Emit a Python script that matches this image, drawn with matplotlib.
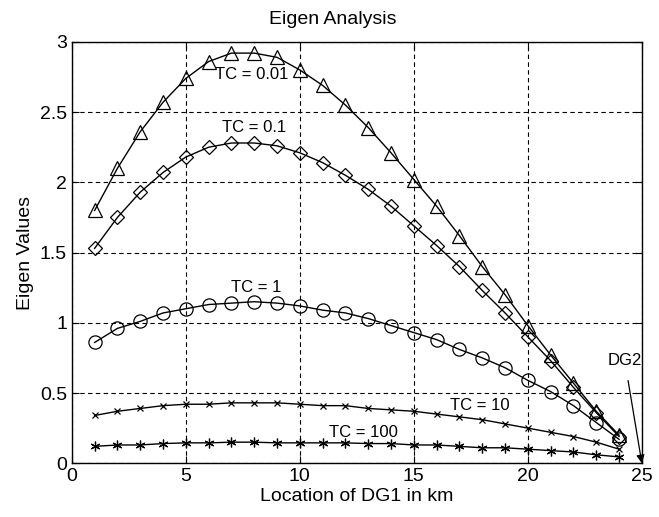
import numpy as np
import matplotlib
matplotlib.use('Agg')
from matplotlib import pyplot as plt

plt.rcParams['font.family'] = ['Liberation Sans', 'DejaVu Sans']

# location of DG1 (km)
loc = np.arange(1, 25)

# eigen values for each time constant
tc_001 = [1.80, 2.10, 2.36, 2.57, 2.74, 2.86, 2.92, 2.92, 2.89, 2.80, 2.69, 2.55,
          2.39, 2.21, 2.02, 1.83, 1.62, 1.40, 1.20, 0.98, 0.77, 0.57, 0.37, 0.20]
tc_01 = [1.53, 1.75, 1.93, 2.07, 2.18, 2.25, 2.28, 2.28, 2.26, 2.21, 2.14, 2.05,
         1.95, 1.83, 1.69, 1.55, 1.40, 1.23, 1.07, 0.90, 0.73, 0.54, 0.36, 0.19]
tc_1 = [0.86, 0.96, 1.01, 1.07, 1.10, 1.13, 1.14, 1.15, 1.14, 1.12, 1.09, 1.07,
        1.03, 0.98, 0.93, 0.88, 0.81, 0.75, 0.68, 0.59, 0.51, 0.41, 0.29, 0.17]
tc_10 = [0.34, 0.37, 0.39, 0.41, 0.42, 0.42, 0.43, 0.43, 0.43, 0.42, 0.41, 0.41,
         0.39, 0.38, 0.37, 0.35, 0.33, 0.31, 0.28, 0.25, 0.22, 0.19, 0.15, 0.10]
tc_100 = [0.12, 0.13, 0.13, 0.14, 0.145, 0.145, 0.15, 0.15, 0.145, 0.145, 0.145, 0.145,
          0.14, 0.14, 0.13, 0.13, 0.12, 0.11, 0.11, 0.10, 0.09, 0.08, 0.06, 0.045]

fig = plt.figure(figsize=(6.59, 5.17), dpi=100)
ax = fig.add_axes([0.109, 0.104, 0.865, 0.815])

ax.plot(loc, tc_001, 'k-', marker='^', ms=10, mfc='none', mew=0.9, lw=1)
ax.plot(loc, tc_01, 'k-', marker='D', ms=7, mfc='none', mew=0.9, lw=1)
ax.plot(loc, tc_1, 'k-', marker='o', ms=9.5, mfc='none', mew=0.9, lw=1)
ax.plot(loc, tc_10, 'k-', marker='x', ms=4.5, mew=0.9, lw=1)
ax.plot(loc, tc_100, 'k-', marker=(6, 2, 0), ms=7, mew=0.9, lw=1)

ax.set_xlim(0, 25)
ax.set_ylim(0, 3)
ax.set_xticks([0, 5, 10, 15, 20, 25])
ax.set_yticks([0, 0.5, 1, 1.5, 2, 2.5, 3])
ax.set_yticklabels(['0', '0.5', '1', '1.5', '2', '2.5', '3'])
ax.grid(True, color='k', linestyle=(0, (4, 3)), linewidth=0.8)
ax.tick_params(direction='in', top=True, right=True, labelsize=14, length=5)
for s in ax.spines.values():
    s.set_linewidth(1)

fig.text(0.505, 0.962, 'Eigen Analysis', fontsize=14, ha='center', va='center')
ax.set_xlabel('Location of DG1 in km', fontsize=14, labelpad=2)
ax.set_ylabel('Eigen Values', fontsize=14)

ax.text(7.9, 2.77, 'TC = 0.01', fontsize=12, ha='center', va='center')
ax.text(8.0, 2.39, 'TC = 0.1', fontsize=12, ha='center', va='center')
ax.text(8.1, 1.25, 'TC = 1', fontsize=12, ha='center', va='center')
ax.text(17.9, 0.41, 'TC = 10', fontsize=12, ha='center', va='center')
ax.text(12.8, 0.22, 'TC = 100', fontsize=12, ha='center', va='center')
ax.annotate('DG2', xy=(25, 0.0), xytext=(24.25, 0.73), fontsize=12,
            ha='center', va='center',
            arrowprops=dict(arrowstyle='-|>', color='k', lw=0.9, shrinkA=7, shrinkB=0))

fig.savefig('out.png', dpi=100)
